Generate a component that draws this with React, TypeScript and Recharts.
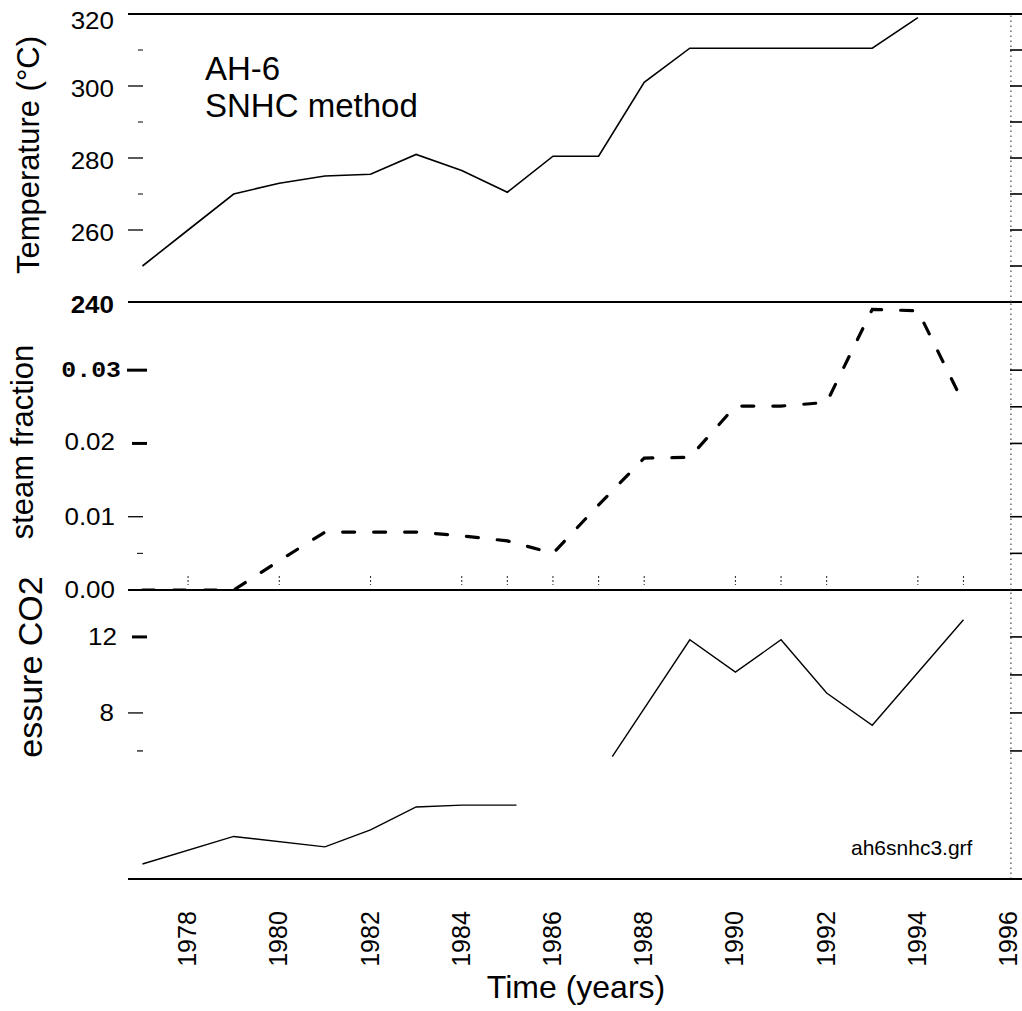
import React from 'react';
import { LineChart, Line, XAxis, YAxis, ReferenceLine } from 'recharts';

const SANS = '"Liberation Sans", Arial, Helvetica, sans-serif';
const MONO = '"Liberation Mono", "DejaVu Sans Mono", monospace';
const INK = '#000';

// Shared time axis (years)
const X_DOMAIN: [number, number] = [1976.683, 1996.283];
const yearTicks = [1978, 1980, 1982, 1984, 1986, 1988, 1990, 1992, 1994, 1996];
const steamMarkYears = [1978, 1980, 1982, 1984, 1985, 1986, 1987, 1988, 1990, 1991, 1992, 1994, 1995];
const RIGHT_RULE_YEAR = 1996.04;

// Temperature (°C)
const tempYears = [1977, 1978, 1979, 1980, 1981, 1982, 1983, 1984, 1985, 1986, 1987, 1988, 1989, 1990, 1991, 1992, 1993, 1994];
const tempValues = [250, 260, 270, 273, 275, 275.5, 281, 276.5, 270.5, 280.5, 280.5, 301, 310.5, 310.5, 310.5, 310.5, 310.5, 319];
const TEMP_DOMAIN: [number, number] = [240, 320];
const tempLeftTicks = [240, 260, 270, 280, 290, 300, 310, 320];
const tempRightTicks = [250, 260, 270, 280, 290, 300, 310];

// Steam fraction
const steamYears = [1977, 1978, 1979, 1980, 1981, 1982, 1983, 1984, 1985, 1986, 1987, 1988, 1989, 1990, 1991, 1992, 1993, 1994, 1995];
const steamValues = [0, 0, 0, 0.004, 0.0079, 0.0079, 0.0079, 0.0074, 0.0067, 0.005, 0.0116, 0.018, 0.0181, 0.0251, 0.0251, 0.0256, 0.0383, 0.0381, 0.0255];
const STEAM_DOMAIN: [number, number] = [0, 0.0393];
const steamLeftTicks = [0, 0.005, 0.01, 0.02, 0.03];
const steamRightTicks = [0.005, 0.01, 0.02, 0.025, 0.03];

// Pressure CO2
const co2EarlyYears = [1977, 1979, 1981, 1982, 1983, 1984, 1985.2];
const co2EarlyValues = [0.05, 1.5, 0.95, 1.85, 3.05, 3.15, 3.15];
const co2LateYears = [1987.3, 1989, 1990, 1991, 1992, 1993, 1995];
const co2LateValues = [5.7, 11.85, 10.15, 11.85, 9.05, 7.35, 12.9];
const CO2_DOMAIN: [number, number] = [-0.74, 14.47];
const co2LeftTicks = [6, 8, 12];
const co2RightTicks = [6, 8, 10, 12];

const zip = (xs: number[], ys: number[], key: string) => xs.map((year, i) => ({ year, [key]: ys[i] }));
const tempData = zip(tempYears, tempValues, 'temp');
const steamData = zip(steamYears, steamValues, 'steam');
const co2Early = zip(co2EarlyYears, co2EarlyValues, 'co2');
const co2Late = zip(co2LateYears, co2LateValues, 'co2');

const W = 1022;
const LEFT_AXIS_W = 128;

const tickText = (x: number, y: number, s: string, bold = false, mono = false) => (
  <text
    transform={`translate(${x},${y}) scale(1.13,1)`}
    textAnchor="end"
    dominantBaseline="central"
    fontFamily={mono ? MONO : SANS}
    fontSize={mono ? 22 : 23}
    fontWeight={bold ? 'bold' : 'normal'}
    fill={INK}
  >
    {s}
  </text>
);

const hTick = (x1: number, x2: number, y: number, w = 1.3) => (
  <line x1={x1} x2={x2} y1={y} y2={y} stroke={INK} strokeWidth={w} />
);

const renderTempTick = (p: any) => {
  const { x, y, payload } = p;
  const v = payload.value as number;
  const labelled = v % 20 === 0;
  return (
    <g>
      {labelled && v !== 240 && v !== 320 && hTick(x, x + 15, y)}
      {!labelled && hTick(x + 10, x + 15, y, 1)}
      {labelled && tickText(x - 14, y + (v === 320 ? 7 : 3), String(v), v === 240)}
    </g>
  );
};

const renderSteamTick = (p: any) => {
  const { x, y, payload } = p;
  const v = payload.value as number;
  if (v === 0.005) return <g>{hTick(x + 9, x + 15, y, 1)}</g>;
  if (v === 0.03)
    return (
      <g>
        {hTick(x - 1, x + 19, y, 3)}
        {tickText(x - 7, y + 1, v.toFixed(2), true, true)}
      </g>
    );
  if (v === 0.02)
    return (
      <g>
        {hTick(x + 4, x + 19, y, 3)}
        {tickText(x - 13, y - 1, v.toFixed(2))}
      </g>
    );
  return (
    <g>
      {v !== 0 && hTick(x, x + 15, y)}
      {tickText(x - 13, y, v.toFixed(2))}
    </g>
  );
};

const renderCo2Tick = (p: any) => {
  const { x, y, payload } = p;
  const v = payload.value as number;
  if (v === 6) return <g>{hTick(x + 9, x + 15, y, 1.2)}</g>;
  if (v === 12)
    return (
      <g>
        {hTick(x + 4, x + 19, y, 3)}
        {tickText(x - 11, y, String(v))}
      </g>
    );
  return (
    <g>
      {hTick(x, x + 15, y)}
      {tickText(x - 14, y, String(v))}
    </g>
  );
};

// right-hand axis: short ticks pointing inward from the frame edge
const renderRightTick = (p: any) => {
  const { x, y } = p;
  return <g>{hTick(x - 12, x, y, 1.6)}</g>;
};

// faint year marks sitting just above the zero line of the steam panel
const renderSteamMark = (p: any) => {
  const { x, y } = p;
  return (
    <line x1={x} x2={x} y1={y - 14} y2={y - 5} stroke="#333" strokeWidth={1.1} strokeDasharray="2 2" />
  );
};

const renderYearTick = (p: any) => {
  const { x, y, payload } = p;
  return (
    <text
      transform={`translate(${x + 8},${y + 60}) rotate(-90)`}
      textAnchor="middle"
      fontFamily={SANS}
      fontSize={25}
      fill={INK}
    >
      {payload.value}
    </text>
  );
};

const rightRule = (
  <ReferenceLine yAxisId="l" x={RIGHT_RULE_YEAR} stroke="#444" strokeWidth={1.2} strokeDasharray="1.5 3.5" />
);

const rightAxis = (domain: [number, number], ticks: number[]) => (
  <YAxis
    yAxisId="r"
    orientation="right"
    width={1}
    mirror
    domain={domain}
    allowDataOverflow
    ticks={ticks}
    interval={0}
    tick={renderRightTick}
    tickLine={false}
    axisLine={false}
    tickSize={0}
    tickMargin={0}
  />
);

const TempPanel = () => (
  <LineChart width={W} height={320} data={tempData} margin={{ top: 14, right: 0, bottom: 18, left: 0 }}>
    <XAxis type="number" dataKey="year" domain={X_DOMAIN} allowDataOverflow hide />
    <YAxis
      yAxisId="l"
      width={LEFT_AXIS_W}
      domain={TEMP_DOMAIN}
      allowDataOverflow
      ticks={tempLeftTicks}
      interval={0}
      tick={renderTempTick}
      tickLine={false}
      axisLine={false}
      tickSize={0}
      tickMargin={0}
    />
    {rightAxis(TEMP_DOMAIN, tempRightTicks)}
    <ReferenceLine yAxisId="l" y={320} stroke={INK} strokeWidth={2} />
    <ReferenceLine yAxisId="l" y={240} stroke={INK} strokeWidth={1.8} />
    {rightRule}
    <Line
      yAxisId="l"
      type="linear"
      dataKey="temp"
      stroke={INK}
      strokeWidth={1.6}
      dot={false}
      isAnimationActive={false}
    />
  </LineChart>
);

const SteamPanel = () => (
  <LineChart width={W} height={315} data={steamData} margin={{ top: 12, right: 0, bottom: 14, left: 0 }}>
    <XAxis
      type="number"
      dataKey="year"
      domain={X_DOMAIN}
      allowDataOverflow
      height={1}
      ticks={steamMarkYears}
      interval={0}
      tick={renderSteamMark}
      tickLine={false}
      axisLine={false}
      tickSize={0}
      tickMargin={0}
    />
    <YAxis
      yAxisId="l"
      width={LEFT_AXIS_W}
      domain={STEAM_DOMAIN}
      allowDataOverflow
      ticks={steamLeftTicks}
      interval={0}
      tick={renderSteamTick}
      tickLine={false}
      axisLine={false}
      tickSize={0}
      tickMargin={0}
    />
    {rightAxis(STEAM_DOMAIN, steamRightTicks)}
    <ReferenceLine yAxisId="l" y={0} stroke={INK} strokeWidth={1.8} />
    {rightRule}
    <Line
      yAxisId="l"
      type="linear"
      dataKey="steam"
      stroke={INK}
      strokeWidth={3.2}
      strokeDasharray="12 19"
      strokeLinecap="round"
      dot={false}
      isAnimationActive={false}
    />
  </LineChart>
);

const Co2Panel = () => (
  <LineChart width={W} height={433} margin={{ top: 12, right: 0, bottom: 0, left: 0 }}>
    <XAxis
      type="number"
      dataKey="year"
      domain={X_DOMAIN}
      allowDataOverflow
      height={132}
      ticks={yearTicks}
      interval={0}
      tick={renderYearTick}
      tickLine={false}
      axisLine={{ stroke: INK, strokeWidth: 1.8 }}
      tickSize={0}
      tickMargin={0}
    />
    <YAxis
      yAxisId="l"
      width={LEFT_AXIS_W}
      domain={CO2_DOMAIN}
      allowDataOverflow
      ticks={co2LeftTicks}
      interval={0}
      tick={renderCo2Tick}
      tickLine={false}
      axisLine={false}
      tickSize={0}
      tickMargin={0}
    />
    {rightAxis(CO2_DOMAIN, co2RightTicks)}
    {rightRule}
    <Line
      yAxisId="l"
      data={co2Early}
      type="linear"
      dataKey="co2"
      stroke={INK}
      strokeWidth={1.4}
      dot={false}
      isAnimationActive={false}
    />
    <Line
      yAxisId="l"
      data={co2Late}
      type="linear"
      dataKey="co2"
      stroke={INK}
      strokeWidth={1.4}
      dot={false}
      isAnimationActive={false}
    />
  </LineChart>
);

const place = (top: number): React.CSSProperties => ({ position: 'absolute', left: 0, top });

export default function App() {
  return (
    <div style={{ position: 'absolute', left: 0, top: 0, width: W, height: 1011, background: '#fff', overflow: 'hidden' }}>
      <div style={place(0)}>
        <TempPanel />
      </div>
      <div style={place(290)}>
        <SteamPanel />
      </div>
      <div style={place(578)}>
        <Co2Panel />
      </div>
      <svg
        width={W}
        height={1011}
        style={{ position: 'absolute', left: 0, top: 0, pointerEvents: 'none' }}
        fontFamily={SANS}
        fill={INK}
      >
        <text x={205} y={80} fontSize={33}>AH-6</text>
        <text x={205} y={117} fontSize={33}>SNHC method</text>
        <text transform="translate(39,155) rotate(-90)" textAnchor="middle" fontSize={31}>
          Temperature (°C)
        </text>
        <text transform="translate(33,442) rotate(-90)" textAnchor="middle" fontSize={31}>
          steam fraction
        </text>
        <text transform="translate(42,667) rotate(-90)" textAnchor="middle" fontSize={34}>
          essure CO2
        </text>
        <text x={576} y={998} textAnchor="middle" fontSize={32}>Time (years)</text>
        <text x={851} y={855} fontSize={21}>ah6snhc3.grf</text>
      </svg>
    </div>
  );
}
